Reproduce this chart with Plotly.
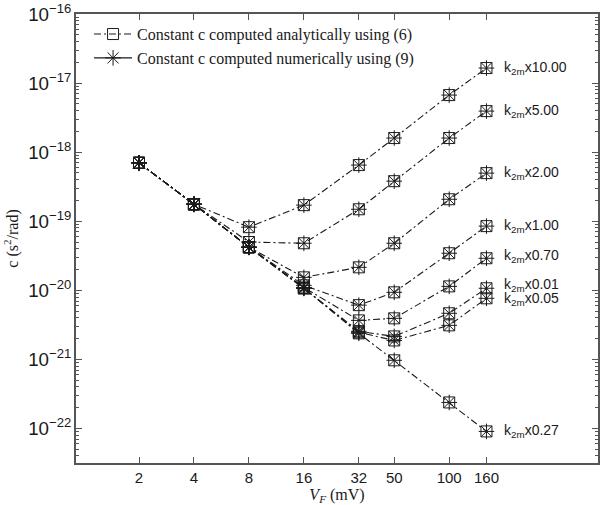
import math
import plotly.graph_objects as go

# ---- data ----
V_F = [2, 4, 8, 16, 32, 50, 100, 160]
x_tick_labels = ["2", "4", "8", "16", "32", "50", "100", "160"]

factor_labels = ["10.00", "5.00", "2.00", "1.00", "0.70", "0.01", "0.05", "0.27"]

c_x10_00 = [7.0e-19, 1.76e-19, 8.2e-20, 1.71e-19, 6.5e-19, 1.6e-18, 6.7e-18, 1.65e-17]
c_x5_00 = [7.0e-19, 1.76e-19, 5.0e-20, 4.8e-20, 1.49e-19, 3.8e-19, 1.6e-18, 3.93e-18]
c_x2_00 = [7.0e-19, 1.76e-19, 4.2e-20, 1.54e-20, 2.15e-20, 4.8e-20, 2.08e-19, 4.97e-19]
c_x1_00 = [7.0e-19, 1.76e-19, 4.2e-20, 1.18e-20, 6.1e-21, 9.35e-21, 3.44e-20, 8.5e-20]
c_x0_70 = [7.0e-19, 1.76e-19, 4.2e-20, 1.10e-20, 3.67e-21, 3.93e-21, 1.14e-20, 2.91e-20]
c_x0_01 = [7.0e-19, 1.76e-19, 4.2e-20, 1.07e-20, 2.55e-21, 2.15e-21, 4.65e-21, 1.07e-20]
c_x0_05 = [7.0e-19, 1.76e-19, 4.2e-20, 1.07e-20, 2.46e-21, 1.88e-21, 3.11e-21, 7.66e-21]
c_x0_27 = [7.0e-19, 1.76e-19, 4.2e-20, 1.07e-20, 2.38e-21, 9.7e-22, 2.38e-22, 9.06e-23]

c_analytic = [c_x10_00, c_x5_00, c_x2_00, c_x1_00, c_x0_70, c_x0_01, c_x0_05, c_x0_27]
c_numerical = [list(s) for s in c_analytic]  # numerical results overlap analytic ones

label_yshift = [0, 0, 0, 0, 2, 3, -1, 0]

INK = "#1a1a1a"
AX = "#555555"
DASHDOT = "7px,3px,2px,3px"

fig = go.Figure()

for i, ys in enumerate(c_analytic):
    fig.add_trace(go.Scatter(
        x=V_F, y=ys, mode="lines+markers",
        line=dict(color=INK, width=1.1, dash=DASHDOT),
        marker=dict(symbol="square-open", size=11, color=INK, line=dict(width=1, color=INK)),
        name="Constant c computed analytically using (6)",
        showlegend=(i == 0), legendgroup="a",
    ))

for i, ys in enumerate(c_numerical):
    fig.add_trace(go.Scatter(
        x=V_F, y=ys, mode="markers",
        marker=dict(symbol="asterisk-open", size=13, color=INK, line=dict(width=1, color=INK)),
        showlegend=False, legendgroup="n",
    ))

# legend proxy for numerical series (solid line + asterisk)
fig.add_trace(go.Scatter(
    x=[None], y=[None], mode="lines+markers",
    line=dict(color=INK, width=1.1),
    marker=dict(symbol="asterisk-open", size=13, color=INK, line=dict(width=1, color=INK)),
    name="Constant c computed numerically using (9)", legendgroup="n",
))

for lab, ys, sh in zip(factor_labels, c_analytic, label_yshift):
    fig.add_annotation(
        x=math.log10(V_F[-1]), y=math.log10(ys[-1]), xref="x", yref="y",
        text="k<sub>2m</sub>x" + lab, showarrow=False,
        xanchor="left", yanchor="middle", xshift=16, yshift=sh,
        font=dict(family="Liberation Sans, Arial, sans-serif", size=14, color=INK),
    )

axis_common = dict(
    showgrid=False, zeroline=False, showline=True, linecolor=AX, linewidth=1.5,
    mirror="ticks", ticks="inside", tickcolor=AX, tickwidth=1.2, automargin=False,
    ticklabeloverflow="allow",
    tickfont=dict(family="Liberation Sans, Arial, sans-serif", size=15, color=INK),
)

fig.update_xaxes(
    type="log", range=[-0.044, 2.815],
    tickvals=V_F, ticktext=x_tick_labels, ticklen=6,
    title=dict(text="<i>V</i><sub><i>F</i></sub> (mV)", standoff=2,
               font=dict(family="Liberation Serif, Times New Roman, serif", size=16, color=INK)),
    **axis_common,
)
fig.update_yaxes(
    type="log", range=[-22.5, -16], dtick=1, exponentformat="power", ticklen=6,
    minor=dict(ticks="inside", ticklen=3, tickcolor=AX, showgrid=False),
    title=dict(text="c (s<sup>2</sup>/rad)", standoff=6,
               font=dict(family="Liberation Serif, Times New Roman, serif", size=16, color=INK)),
    **axis_common,
)

fig.update_layout(
    width=602, height=505,
    margin=dict(l=76, r=4, t=14, b=42),
    paper_bgcolor="white", plot_bgcolor="white",
    legend=dict(x=0.025, y=0.993, xanchor="left", yanchor="top", bgcolor="rgba(0,0,0,0)",
                font=dict(family="Liberation Sans, Arial, sans-serif", size=16, color=INK) if False else
                dict(family="Liberation Serif, Times New Roman, serif", size=16, color=INK),
                itemwidth=38, tracegroupgap=0),
    showlegend=True,
)

# remove the browser's default 8px page margin so the figure sits at the window's corner
fig.write_html("out.html", config={"displayModeBar": False},
               post_script="document.body.style.margin='0';")
